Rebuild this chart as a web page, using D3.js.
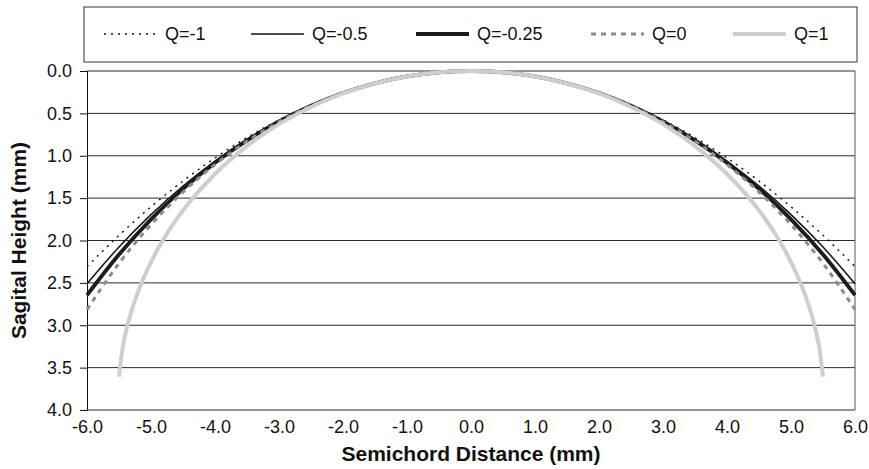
<!DOCTYPE html>
<html lang="en">
<head>
  <meta charset="utf-8">
  <title>Sagital Height</title>
  <script type="text/javascript" src="https://d3js.org/d3.v7.min.js"></script>
  <style type="text/css">
    body { margin: 0; background: #fff; }
    text { font-family: "Liberation Sans", Arial, sans-serif; }
    .tick text { font-size: 18px; fill: #111; }
    .axisTitle { font-size: 21px; font-weight: bold; fill: #111; }
    .legendText { font-size: 18px; fill: #111; }
  </style>
</head>
<body>
  <script type="text/javascript">
  // values (mm)
  var semichord = [-6, -5.5, -5, -4.5, -4, -3.5, -3, -2.5, -2, -1.5, -1, -0.5, 0,
                   0.5, 1, 1.5, 2, 2.5, 3, 3.5, 4, 4.5, 5, 5.5, 6];

  var heightQm1 = [2.308, 1.939, 1.603, 1.298, 1.026, 0.785, 0.577, 0.401, 0.256, 0.144, 0.064, 0.016, 0,
                   0.016, 0.064, 0.144, 0.256, 0.401, 0.577, 0.785, 1.026, 1.298, 1.603, 1.939, 2.308];
  var heightQm05 = [2.510, 2.077, 1.695, 1.357, 1.062, 0.806, 0.588, 0.406, 0.259, 0.145, 0.064, 0.016, 0,
                    0.016, 0.064, 0.145, 0.259, 0.406, 0.588, 0.806, 1.062, 1.357, 1.695, 2.077, 2.510];
  var heightQm025 = [2.644, 2.164, 1.750, 1.391, 1.082, 0.818, 0.594, 0.409, 0.260, 0.145, 0.064, 0.016, 0,
                     0.016, 0.064, 0.145, 0.260, 0.409, 0.594, 0.818, 1.082, 1.391, 1.750, 2.164, 2.644];
  var heightQ0 = [2.816, 2.269, 1.813, 1.429, 1.104, 0.829, 0.600, 0.411, 0.261, 0.146, 0.064, 0.016, 0,
                  0.016, 0.064, 0.146, 0.261, 0.411, 0.600, 0.829, 1.104, 1.429, 1.813, 2.269, 2.816];

  // Q=1 stops short of the edges
  var semichordQ1 = [-5.5, -5.45, -5.4, -5.3, -5.2, -5, -4.75, -4.5, -4, -3.5, -3, -2.5, -2, -1.5, -1, -0.5, 0,
                     0.5, 1, 1.5, 2, 2.5, 3, 3.5, 4, 4.5, 4.75, 5, 5.2, 5.3, 5.4, 5.45, 5.5];
  var heightQ1 = [3.608, 3.301, 3.106, 2.821, 2.600, 2.254, 1.918, 1.645, 1.215, 0.886, 0.627, 0.424, 0.265, 0.147, 0.065, 0.016, 0,
                  0.016, 0.065, 0.147, 0.265, 0.424, 0.627, 0.886, 1.215, 1.645, 1.918, 2.254, 2.600, 2.821, 3.106, 3.301, 3.608];

  var seriesNames = ["Q=-1", "Q=-0.5", "Q=-0.25", "Q=0", "Q=1"];
  var xTicks = [-6, -5, -4, -3, -2, -1, 0, 1, 2, 3, 4, 5, 6];
  var yTicks = [0, 0.5, 1, 1.5, 2, 2.5, 3, 3.5, 4];

  var w = 869;
  var h = 469;
  var plotLeft = 87, plotRight = 855, plotTop = 71, plotBottom = 410;

  var series = [
    { name: seriesNames[0], xs: semichord, ys: heightQm1, color: "#111", width: 1.4, dash: "2,5" },
    { name: seriesNames[1], xs: semichord, ys: heightQm05, color: "#111", width: 1.5, dash: null },
    { name: seriesNames[2], xs: semichord, ys: heightQm025, color: "#1c1c1c", width: 3.8, dash: null },
    { name: seriesNames[3], xs: semichord, ys: heightQ0, color: "#8c8c8c", width: 3, dash: "5,5" },
    { name: seriesNames[4], xs: semichordQ1, ys: heightQ1, color: "#cecece", width: 4, dash: null }
  ];

  var fmt = function(d) { return d.toFixed(1); };

  var svg = d3.select("body").append("svg")
    .attr("width", w)
    .attr("height", h);

  var xScale = d3.scaleLinear().domain([-6, 6]).range([plotLeft, plotRight]);
  var yScale = d3.scaleLinear().domain([0, 4]).range([plotTop, plotBottom]);

  // gridlines
  svg.append("g")
    .selectAll("line")
    .data(yTicks)
    .enter().append("line")
    .attr("x1", plotLeft).attr("x2", plotRight)
    .attr("y1", function(d) { return yScale(d); })
    .attr("y2", function(d) { return yScale(d); })
    .attr("stroke", "#2a2a2a")
    .attr("stroke-width", 1);

  // right border
  svg.append("line")
    .attr("x1", plotRight).attr("x2", plotRight)
    .attr("y1", plotTop).attr("y2", plotBottom)
    .attr("stroke", "#555").attr("stroke-width", 1);

  var yAxis = d3.axisLeft(yScale)
    .tickValues(yTicks)
    .tickFormat(fmt)
    .tickSize(7)
    .tickPadding(8);

  var gy = svg.append("g")
    .attr("transform", "translate(" + plotLeft + ",0)")
    .call(yAxis);
  gy.select(".domain").attr("stroke", "#111");
  gy.selectAll(".tick line").attr("stroke", "#111");

  var xAxis = d3.axisBottom(xScale)
    .tickValues(xTicks)
    .tickFormat(fmt)
    .tickSize(0)
    .tickPadding(10);

  var gx = svg.append("g")
    .attr("transform", "translate(0," + plotBottom + ")")
    .call(xAxis);
  gx.select(".domain").remove();

  // curves
  series.forEach(function(s) {
    var pts = s.xs.map(function(x, i) { return [x, s.ys[i]]; });
    var line = d3.line()
      .x(function(d) { return xScale(d[0]); })
      .y(function(d) { return yScale(d[1]); })
      .curve(d3.curveMonotoneX);
    svg.append("path")
      .datum(pts)
      .attr("fill", "none")
      .attr("stroke", s.color)
      .attr("stroke-width", s.width)
      .attr("stroke-dasharray", s.dash)
      .attr("d", line);
  });

  // axis titles
  svg.append("text")
    .attr("class", "axisTitle")
    .attr("x", (plotLeft + plotRight) / 2)
    .attr("y", 461)
    .attr("text-anchor", "middle")
    .text("Semichord Distance (mm)");

  svg.append("text")
    .attr("class", "axisTitle")
    .attr("transform", "translate(26," + ((plotTop + plotBottom) / 2) + ") rotate(-90)")
    .attr("text-anchor", "middle")
    .text("Sagital Height (mm)");

  // legend
  svg.append("rect")
    .attr("x", 84).attr("y", 7)
    .attr("width", 773).attr("height", 55)
    .attr("fill", "#fff")
    .attr("stroke", "#333")
    .attr("stroke-width", 1);

  var legendX = [104, 251, 416, 591, 733];
  var legendY = 34;
  series.forEach(function(s, i) {
    svg.append("line")
      .attr("x1", legendX[i]).attr("x2", legendX[i] + 53)
      .attr("y1", legendY).attr("y2", legendY)
      .attr("stroke", s.color)
      .attr("stroke-width", s.width)
      .attr("stroke-dasharray", s.dash);
    svg.append("text")
      .attr("class", "legendText")
      .attr("x", legendX[i] + 61)
      .attr("y", legendY + 6)
      .text(s.name);
  });
  </script>
</body>
</html>
